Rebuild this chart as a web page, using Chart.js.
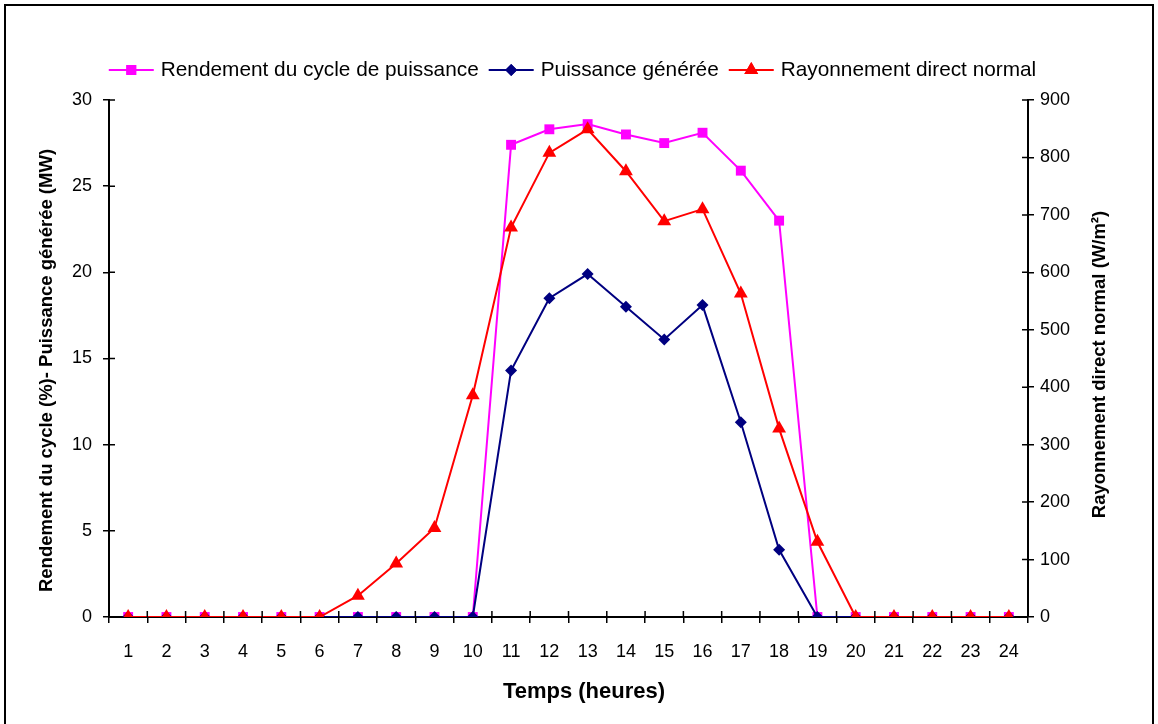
<!DOCTYPE html>
<html>
<head>
<meta charset="utf-8">
<script src="https://cdn.jsdelivr.net/npm/chart.js@4.4.0/dist/chart.umd.min.js"></script>
<style>
    html, body { margin: 0; padding: 0; background: #fff; }
    #wrap { position: relative; width: 1158px; height: 724px; overflow: hidden; }
    #frame { position: absolute; left: 4px; top: 4px; width: 1150px; height: 760px; border: 2px solid #000; box-sizing: border-box; pointer-events: none; }
    canvas { position: absolute; left: 0; top: 0; }
</style>
</head>
<body>
<div id="wrap">
    <canvas id="chart" width="1158" height="724"></canvas>
    <div id="frame"></div>
</div>
<script>
const hours = ['1','2','3','4','5','6','7','8','9','10','11','12','13','14','15','16','17','18','19','20','21','22','23','24'];
const rendement = [0,0,0,0,0,0,0,0,0,0,27.4,28.3,28.6,28.0,27.5,28.1,25.9,23.0,0,0,0,0,0,0];
const puissance = [0,0,0,0,0,0,0,0,0,0,14.3,18.5,19.9,18.0,16.1,18.1,11.3,3.9,0,0,0,0,0,0];
const rayonnement = [0,0,0,0,0,0,37,93,155,386,678,808,849,776,689,710,563,328,131,0,0,0,0,0];

const FONT = 'Arial, "Liberation Sans", sans-serif';

const palette = {
    magenta: '#FF00FF',
    navy: '#000080',
    red: '#FF0000',
    axis: '#000000'
};

// Excel style ticks cross the axis: Chart.js only draws the outer half
const innerTicks = {
    id: 'innerTicks',
    afterDraw(chart) {
        const { ctx, chartArea } = chart;
        const len = 6;
        ctx.save();
        ctx.strokeStyle = palette.axis;
        ctx.lineWidth = 1.5;
        ctx.beginPath();
        const x = chart.scales.x;
        for (let i = 0; i <= hours.length; i++) {
            const px = x.getPixelForValue(i - 0.5);
            ctx.moveTo(px, chartArea.bottom);
            ctx.lineTo(px, chartArea.bottom - len);
        }
        chart.scales.y.ticks.forEach(t => {
            const py = chart.scales.y.getPixelForValue(t.value);
            ctx.moveTo(chartArea.left, py);
            ctx.lineTo(chartArea.left + len, py);
        });
        chart.scales.y2.ticks.forEach(t => {
            const py = chart.scales.y2.getPixelForValue(t.value);
            ctx.moveTo(chartArea.right, py);
            ctx.lineTo(chartArea.right - len, py);
        });
        ctx.stroke();
        ctx.restore();
    }
};

// titles drawn by hand to place them like the original (right one reads bottom-to-top too)
function title(ctx, text, x, y, size, rotate) {
    ctx.save();
    ctx.translate(x, y);
    if (rotate) ctx.rotate(-Math.PI / 2);
    ctx.font = 'bold ' + size + 'px ' + FONT;
    ctx.fillStyle = '#000';
    ctx.textAlign = 'center';
    ctx.textBaseline = 'middle';
    ctx.fillText(text, 0, 0);
    ctx.restore();
}

const axisTitles = {
    id: 'axisTitles',
    afterDraw(chart) {
        const { ctx, chartArea } = chart;
        const mid = (chartArea.top + chartArea.bottom) / 2;
        title(ctx, 'Rendement du cycle (%)- Puissance générée (MW)', 47, mid + 12, 18.5, true);
        title(ctx, 'Rayonnement direct normal (W/m²)', 1100, mid + 6, 18.5, true);
        title(ctx, 'Temps (heures)', 584, 692, 22, false);
    }
};

// legend with line + marker, as in the spreadsheet chart
const lineLegend = {
    id: 'lineLegend',
    afterDraw(chart) {
        const { ctx, chartArea } = chart;
        const y = 70, lineLen = 45, gapText = 7, gapItem = 10;
        ctx.save();
        ctx.font = '20.8px ' + FONT;
        ctx.textBaseline = 'middle';
        const items = chart.data.datasets.map(ds => ({ ds, w: ctx.measureText(ds.label).width }));
        const total = items.reduce((s, it) => s + lineLen + gapText + it.w, 0) + gapItem * (items.length - 1);
        let x = (chartArea.left + chartArea.right) / 2 + 4 - total / 2;
        items.forEach(({ ds, w }) => {
            ctx.strokeStyle = ds.borderColor;
            ctx.lineWidth = 2;
            ctx.beginPath();
            ctx.moveTo(x, y);
            ctx.lineTo(x + lineLen, y);
            ctx.stroke();
            ctx.fillStyle = ds.backgroundColor;
            Chart.helpers.drawPoint(ctx, {
                pointStyle: ds.pointStyle, radius: ds.pointRadius, borderWidth: 0, rotation: 0
            }, x + lineLen / 2, y);
            ctx.fill();
            ctx.fillStyle = '#000';
            ctx.fillText(ds.label, x + lineLen + gapText, y);
            x += lineLen + gapText + w + gapItem;
        });
        ctx.restore();
    }
};

const tickFont = { family: FONT, size: 18 };

new Chart(document.getElementById('chart'), {
    type: 'line',
    data: {
        labels: hours,
        datasets: [
            { label: 'Rendement du cycle de puissance', data: rendement, yAxisID: 'y', order: 2,
              borderColor: palette.magenta, backgroundColor: palette.magenta, borderWidth: 2,
              pointStyle: 'rect', pointRadius: 7, pointBorderWidth: 0, tension: 0 },
            { label: 'Puissance générée', data: puissance, yAxisID: 'y', order: 1,
              borderColor: palette.navy, backgroundColor: palette.navy, borderWidth: 2,
              pointStyle: 'rectRot', pointRadius: 6, pointBorderWidth: 0, tension: 0 },
            { label: 'Rayonnement direct normal', data: rayonnement, yAxisID: 'y2', order: 0,
              borderColor: palette.red, backgroundColor: palette.red, borderWidth: 2,
              pointStyle: 'triangle', pointRadius: 8, pointBorderWidth: 0, tension: 0 }
        ]
    },
    options: {
        responsive: false,
        animation: false,
        layout: { padding: { top: 100 } },
        plugins: { legend: { display: false }, tooltip: { enabled: false } },
        scales: {
            x: {
                offset: true,
                grid: { offset: true, drawOnChartArea: false, color: palette.axis, lineWidth: 1.5, tickLength: 6 },
                border: { color: palette.axis, width: 2 },
                ticks: { font: tickFont, color: '#000', padding: 18, maxRotation: 0, autoSkip: false },
                afterFit: s => { s.height = 107; }
            },
            y: {
                position: 'left', min: 0, max: 30,
                grid: { drawOnChartArea: false, color: palette.axis, lineWidth: 1.5, tickLength: 6 },
                border: { color: palette.axis, width: 2 },
                ticks: { stepSize: 5, font: tickFont, color: '#000', padding: 11 },
                afterFit: s => { s.width = 109; }
            },
            y2: {
                position: 'right', min: 0, max: 900,
                grid: { drawOnChartArea: false, color: palette.axis, lineWidth: 1.5, tickLength: 6 },
                border: { color: palette.axis, width: 2 },
                ticks: { stepSize: 100, font: tickFont, color: '#000', padding: 6 },
                afterFit: s => { s.width = 130; }
            }
        }
    },
    plugins: [innerTicks, axisTitles, lineLegend]
});
</script>
</body>
</html>
